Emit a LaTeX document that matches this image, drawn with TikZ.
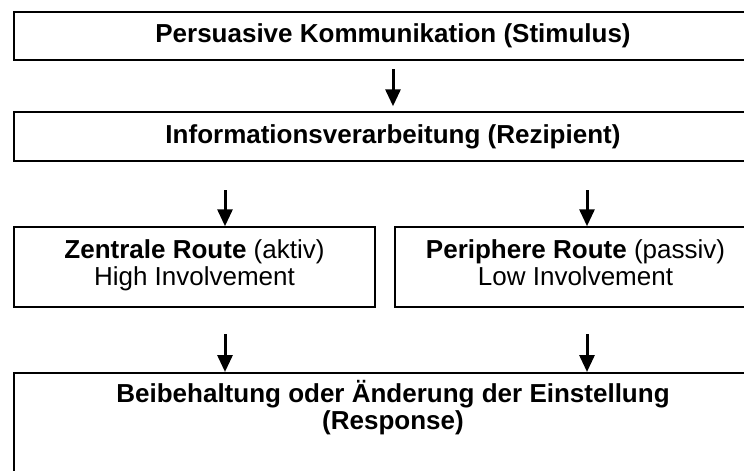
\documentclass[tikz,border=0pt]{standalone}
\usepackage{fontspec}
\setmainfont{Liberation Sans}
\usetikzlibrary{arrows.meta}

\begin{document}
\begin{tikzpicture}[x=1pt,y=-1pt,font=\fontsize{26}{27}\selectfont,
  kasten/.style={draw=black,line width=1.5pt,inner sep=0pt,align=center},
  pfeil/.style={line width=3pt,-{Triangle[width=15pt,length=17pt]}}]
\useasboundingbox (0,0) rectangle (744,471);
\clip (0,0) rectangle (744,471);
\node[kasten,minimum width=758pt,minimum height=48pt] (stimulus) at (393,36) {\textbf{Persuasive Kommunikation (Stimulus)}};
\node[kasten,minimum width=758pt,minimum height=49pt] (rezipient) at (393,136.5) {\textbf{Informationsverarbeitung (Rezipient)}};
\node[kasten,minimum width=361pt,minimum height=80pt] (route-zentral) at (194.5,267) {\strut\textbf{Zentrale Route} (aktiv)\\\strut High Involvement};
\node[kasten,minimum width=361pt,minimum height=80pt] (route-peripher) at (575.5,267) {\strut\textbf{Periphere Route} (passiv)\\\strut Low Involvement};
\node[kasten,minimum width=758pt,minimum height=130pt,anchor=north] (response) at (393,372) {};
\node[align=center,inner sep=0pt] (response-text) at (393,408) {\textbf{Beibehaltung oder Änderung der Einstellung}\\\textbf{(Response)}};
\coordinate (pfeil-0) at (393,69);
\coordinate (pfeil-1-0) at (225,190);
\coordinate (pfeil-1-1) at (587,190);
\coordinate (pfeil-2-0) at (225,334);
\coordinate (pfeil-2-1) at (587,334);
\draw[pfeil] (pfeil-0) -- ([yshift=5pt]rezipient.north);
\draw[pfeil] (pfeil-1-0) -- (pfeil-1-0 |- route-zentral.north);
\draw[pfeil] (pfeil-1-1) -- (pfeil-1-1 |- route-peripher.north);
\draw[pfeil] (pfeil-2-0) -- (pfeil-2-0 |- response.north);
\draw[pfeil] (pfeil-2-1) -- (pfeil-2-1 |- response.north);
\end{tikzpicture}
\end{document}
